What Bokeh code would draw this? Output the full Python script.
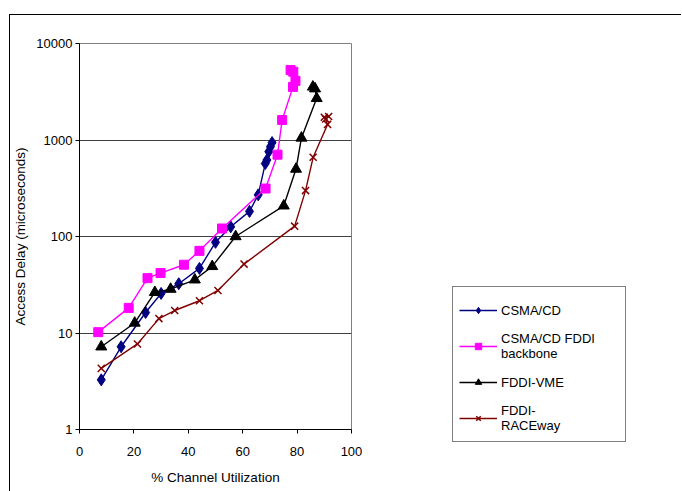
from bokeh.plotting import figure
from bokeh.layouts import row
from bokeh.models import Legend, LegendItem, FixedTicker
from bokeh.embed import file_html
from bokeh.resources import INLINE

# % channel utilization / access delay (microseconds)
csma_x = [8.0, 15.3, 24.3, 30.0, 36.5, 44.1, 50.0, 55.6, 62.5, 65.7, 68.3, 68.9, 69.6, 70.2, 70.8]
csma_y = [3.27, 7.2, 16.3, 25.7, 32.4, 46.7, 87, 126, 182, 270, 570, 620, 757, 853, 940]

fddi_bb_x = [6.9, 18.1, 25.0, 29.8, 38.4, 44.1, 52.4, 68.4, 72.8, 74.5, 78.5, 79.4, 78.6, 77.6]
fddi_bb_y = [10.2, 18.2, 37, 41.8, 51, 71, 121, 314, 705, 1610, 3550, 4100, 5100, 5300]

vme_x = [8.0, 20.3, 27.7, 33.5, 42.4, 48.8, 57.4, 75.1, 79.6, 81.6, 87.2, 86.6, 85.8]
vme_y = [7.2, 12.7, 26.4, 28.5, 35.6, 49, 100, 208, 500, 1050, 2700, 3400, 3550]

race_x = [8.0, 21.3, 29.2, 35.0, 44.1, 50.9, 60.5, 79.1, 83.1, 85.9, 91.2, 90.5, 91.6, 90.0]
race_y = [4.3, 7.7, 14.1, 17.1, 21.6, 27.6, 51.8, 128, 299, 662, 1450, 1650, 1750, 1720]

series_names = ["CSMA/CD", "CSMA/CD FDDI\nbackbone", "FDDI-VME", "FDDI-\nRACEway"]
series_colors = ["#000080", "#FF00FF", "black", "#800000"]
series_markers = ["diamond", "square", "triangle", "x"]
series_sizes = [12, 9, 11, 10]
series_data = [(csma_x, csma_y), (fddi_bb_x, fddi_bb_y), (vme_x, vme_y), (race_x, race_y)]

x_ticks = [0, 20, 40, 60, 80, 100]
y_ticks = [1, 10, 100, 1000, 10000]

FONT = "Liberation Sans"


def draw_series(fig):
    out = []
    for (xs, ys), c, m, s in zip(series_data, series_colors, series_markers, series_sizes):
        ln = fig.line(xs, ys, line_color=c, line_width=1.4)
        if m == "x":
            sc = fig.scatter(xs, ys, marker=m, size=s, line_color=c, line_width=1.5)
        else:
            sc = fig.scatter(xs, ys, marker=m, size=s, fill_color=c, line_color=c)
        out.append((ln, sc))
    return out


# main chart
p = figure(width=372, height=476, x_range=(0, 100), y_range=(1, 10000),
           y_axis_type="log", output_backend="svg", toolbar_location=None,
           min_border_left=68, min_border_top=28, min_border_right=31,
           min_border_bottom=62)
p.background_fill_color = "white"
p.border_fill_color = "white"
p.outline_line_color = "#808080"
p.outline_line_width = 1

p.xgrid.visible = False
p.ygrid.ticker = FixedTicker(ticks=y_ticks[1:-1])
p.ygrid.grid_line_color = "#404040"
p.ygrid.grid_line_width = 1

p.xaxis.ticker = FixedTicker(ticks=x_ticks)
p.yaxis.ticker = FixedTicker(ticks=y_ticks)
p.yaxis.major_label_overrides = {t: str(t) for t in y_ticks}
for ax in (p.xaxis[0], p.yaxis[0]):
    ax.axis_line_color = "black"
    ax.major_tick_line_color = "black"
    ax.major_tick_out = 4
    ax.major_tick_in = 0
    ax.minor_tick_line_color = None
    ax.major_label_text_font = FONT
    ax.major_label_text_font_size = "13px"
    ax.major_label_text_color = "black"
    ax.axis_label_text_font = FONT
    ax.axis_label_text_font_size = "13.5px"
    ax.axis_label_text_font_style = "normal"
    ax.axis_label_text_color = "black"

p.xaxis.axis_label = "% Channel Utilization"
p.yaxis.axis_label = "Access Delay (microseconds)"
p.xaxis.major_label_standoff = 13
p.xaxis.axis_label_standoff = 11
p.yaxis.major_label_standoff = 3
p.yaxis.axis_label_standoff = 5

draw_series(p)

# legend panel (same series, drawn out of its visible range; only the legend shows)
q = figure(width=299, height=476, x_range=(1000, 1001), y_range=(1000, 1001),
           output_backend="svg", toolbar_location=None,
           min_border_left=0, min_border_right=0, min_border_top=0, min_border_bottom=0)
q.frame_align = False
q.axis.visible = False
q.grid.visible = False
q.outline_line_color = None
q.background_fill_color = "white"
q.border_fill_color = "white"
q_renderers = draw_series(q)

legend = Legend(items=[LegendItem(label=name, renderers=list(r))
                       for name, r in zip(series_names, q_renderers)],
                location=(70, 49))
legend.border_line_color = "black"
legend.border_line_width = 1
legend.background_fill_color = "white"
legend.background_fill_alpha = 1
legend.label_text_font = FONT
legend.label_text_font_size = "13px"
legend.label_text_color = "black"
legend.label_text_line_height = 1.35
legend.glyph_width = 38
legend.glyph_height = 16
legend.label_height = 34
legend.label_width = 118
legend.label_standoff = 4
legend.padding = 6
legend.spacing = 2
legend.margin = 0
q.add_layout(legend, "center")

layout = row(p, q)
layout.margin = (14, 0, 0, 9)
layout.styles = {"border-left": "1px solid black", "border-top": "1px solid black"}

open("out.html", "w").write(file_html(layout, INLINE))
